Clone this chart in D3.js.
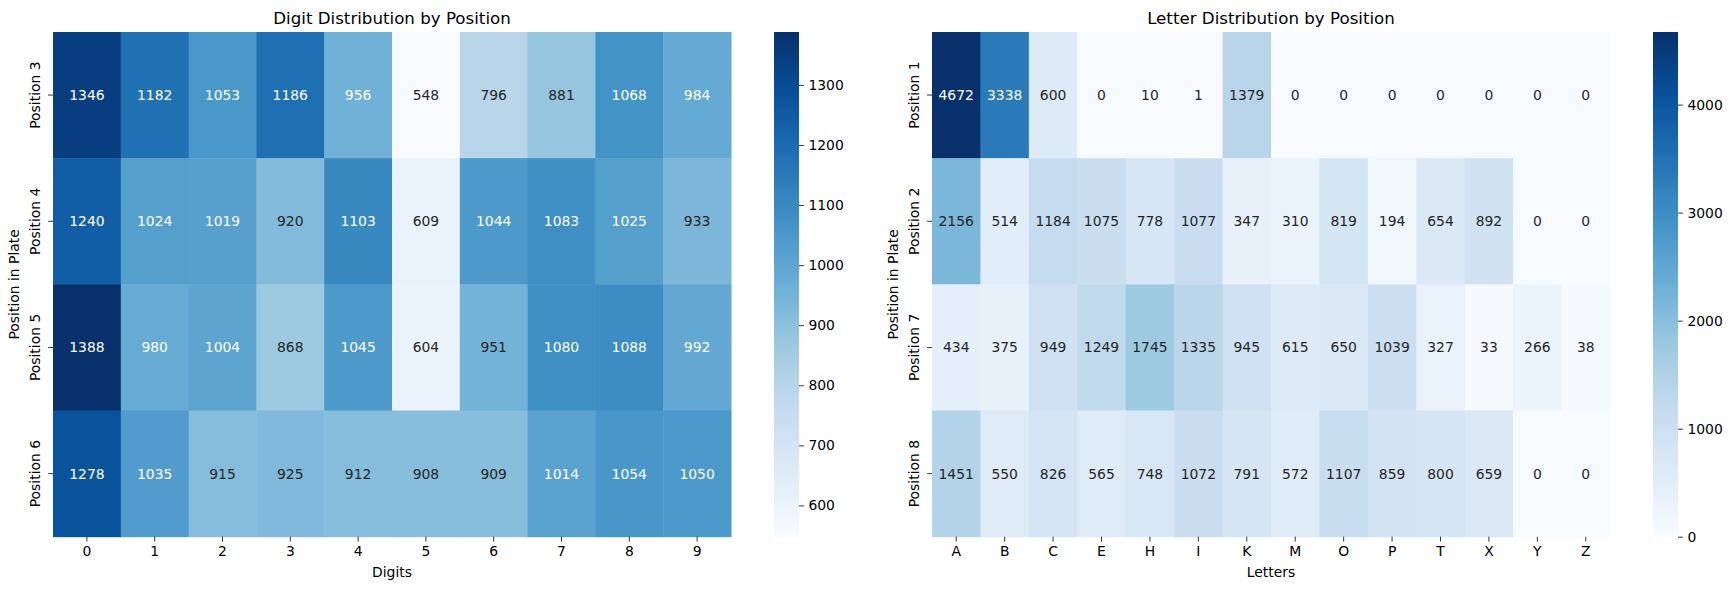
<!DOCTYPE html>
<html>
<head>
<meta charset="utf-8">
<script src="https://cdn.jsdelivr.net/npm/d3@7"></script>
<style>
  body { margin: 0; background: #fff; }
  svg { font-family: "DejaVu Sans", sans-serif; }
</style>
</head>
<body>
<div class="chart"></div>
<script>
// data
const digitRows = ["Position 3", "Position 4", "Position 5", "Position 6"];
const digits = ["0", "1", "2", "3", "4", "5", "6", "7", "8", "9"];
const digitCounts = [
	[1346, 1182, 1053, 1186, 956, 548, 796, 881, 1068, 984],
	[1240, 1024, 1019, 920, 1103, 609, 1044, 1083, 1025, 933],
	[1388, 980, 1004, 868, 1045, 604, 951, 1080, 1088, 992],
	[1278, 1035, 915, 925, 912, 908, 909, 1014, 1054, 1050]
];
const digitTicks = [600, 700, 800, 900, 1000, 1100, 1200, 1300];

const letterRows = ["Position 1", "Position 2", "Position 7", "Position 8"];
const letters = ["A", "B", "C", "E", "H", "I", "K", "M", "O", "P", "T", "X", "Y", "Z"];
const letterCounts = [
	[4672, 3338, 600, 0, 10, 1, 1379, 0, 0, 0, 0, 0, 0, 0],
	[2156, 514, 1184, 1075, 778, 1077, 347, 310, 819, 194, 654, 892, 0, 0],
	[434, 375, 949, 1249, 1745, 1335, 945, 615, 650, 1039, 327, 33, 266, 38],
	[1451, 550, 826, 565, 748, 1072, 791, 572, 1107, 859, 800, 659, 0, 0]
];
const letterTicks = [0, 1000, 2000, 3000, 4000];

// matplotlib "Blues"
const blues = ["#f7fbff", "#deebf7", "#c6dbef", "#9ecae1", "#6baed6", "#4292c6", "#2171b5", "#08519c", "#08306b"];

const W = 1732, H = 590;
const yTop = 32, yBottom = 536.7;

const svg = d3.select('.chart').append('svg')
	.attr('width', W)
	.attr('height', H);

function luminance(c) {
	const rgb = d3.rgb(c);
	const lin = [rgb.r, rgb.g, rgb.b].map(v => {
		v = v / 255;
		return v <= 0.03928 ? v / 12.92 : Math.pow((v + 0.055) / 1.055, 2.4);
	});
	return 0.2126 * lin[0] + 0.7152 * lin[1] + 0.0722 * lin[2];
}

function heatmap(opt) {
	const flat = opt.counts.flat();
	const vmin = d3.min(flat), vmax = d3.max(flat);

	const color = d3.scaleLinear()
		.domain(d3.range(blues.length).map(i => vmin + (vmax - vmin) * i / (blues.length - 1)))
		.range(blues)
		.interpolate(d3.interpolateRgb);

	const x = d3.scaleBand().domain(opt.cols).range([opt.x0, opt.x1]);
	const y = d3.scaleBand().domain(opt.rows).range([yTop, yBottom]);

	const g = svg.append('g');

	const cells = [];
	opt.counts.forEach((row, i) => row.forEach((v, j) => {
		cells.push({row: opt.rows[i], col: opt.cols[j], value: v});
	}));

	g.selectAll('.cell')
		.data(cells)
		.enter()
		.append('rect')
		.attr('class', 'cell')
		.attr('x', d => x(d.col))
		.attr('y', d => y(d.row))
		.attr('width', x.bandwidth() + 0.5)
		.attr('height', y.bandwidth() + 0.5)
		.attr('fill', d => color(d.value));

	g.selectAll('.annot')
		.data(cells)
		.enter()
		.append('text')
		.attr('class', 'annot')
		.attr('x', d => x(d.col) + x.bandwidth() / 2)
		.attr('y', d => y(d.row) + y.bandwidth() / 2)
		.attr('dy', '0.36em')
		.attr('text-anchor', 'middle')
		.attr('font-size', '13.9px')
		.attr('fill', d => luminance(color(d.value)) > 0.408 ? '#262626' : '#ffffff')
		.text(d => d.value);

	// x axis
	const xAxis = d3.axisBottom(x).tickSize(4.9).tickPadding(4.5);
	const gx = g.append('g')
		.attr('transform', `translate(0, ${yBottom})`)
		.call(xAxis);
	gx.select('.domain').remove();
	gx.selectAll('text').attr('font-size', '13.9px').attr('fill', '#000').attr('font-family', 'DejaVu Sans');
	gx.selectAll('line').attr('stroke', '#000').attr('stroke-width', 0.8);

	// y axis, labels rotated
	const yAxis = d3.axisLeft(y).tickSize(4.9).tickPadding(4.5);
	const gy = g.append('g')
		.attr('transform', `translate(${opt.x0}, 0)`)
		.call(yAxis);
	gy.select('.domain').remove();
	gy.selectAll('line').attr('stroke', '#000').attr('stroke-width', 0.8);
	gy.selectAll('text')
		.attr('font-size', '13.9px')
		.attr('fill', '#000')
		.attr('font-family', 'DejaVu Sans')
		.attr('x', null).attr('dy', null)
		.attr('text-anchor', 'middle')
		.attr('transform', 'translate(-12.6, 0) rotate(-90)');

	// titles
	g.append('text')
		.attr('x', (opt.x0 + opt.x1) / 2)
		.attr('y', 24)
		.attr('text-anchor', 'middle')
		.attr('font-size', '16.67px')
		.text(opt.title);

	g.append('text')
		.attr('x', (opt.x0 + opt.x1) / 2)
		.attr('y', 576.7)
		.attr('text-anchor', 'middle')
		.attr('font-size', '13.9px')
		.text(opt.xlabel);

	g.append('text')
		.attr('transform', `translate(${opt.x0 - 34}, ${(yTop + yBottom) / 2}) rotate(-90)`)
		.attr('text-anchor', 'middle')
		.attr('font-size', '13.9px')
		.text('Position in Plate');

	// colorbar
	const gradId = 'grad-' + opt.id;
	const grad = svg.append('defs').append('linearGradient')
		.attr('id', gradId)
		.attr('x1', 0).attr('y1', 1).attr('x2', 0).attr('y2', 0);
	d3.range(0, 1.0001, 1 / 64).forEach(t => {
		grad.append('stop')
			.attr('offset', t)
			.attr('stop-color', color(vmin + t * (vmax - vmin)));
	});

	g.append('rect')
		.attr('x', opt.cb0)
		.attr('y', yTop)
		.attr('width', 25)
		.attr('height', yBottom - yTop)
		.attr('fill', `url(#${gradId})`);

	const cScale = d3.scaleLinear().domain([vmin, vmax]).range([yBottom, yTop]);
	const cAxis = d3.axisRight(cScale)
		.tickValues(opt.ticks)
		.tickFormat(d3.format('d'))
		.tickSize(4.9)
		.tickPadding(4.5);
	const gc = g.append('g')
		.attr('transform', `translate(${opt.cb0 + 25}, 0)`)
		.call(cAxis);
	gc.select('.domain').remove();
	gc.selectAll('line').attr('stroke', '#000').attr('stroke-width', 0.8);
	gc.selectAll('text').attr('font-size', '13.9px').attr('fill', '#000').attr('font-family', 'DejaVu Sans');
}

heatmap({
	id: 'digits',
	title: 'Digit Distribution by Position',
	xlabel: 'Digits',
	rows: digitRows,
	cols: digits,
	counts: digitCounts,
	ticks: digitTicks,
	x0: 53, x1: 731, cb0: 774
});

heatmap({
	id: 'letters',
	title: 'Letter Distribution by Position',
	xlabel: 'Letters',
	rows: letterRows,
	cols: letters,
	counts: letterCounts,
	ticks: letterTicks,
	x0: 932, x1: 1610, cb0: 1653
});
</script>
</body>
</html>
